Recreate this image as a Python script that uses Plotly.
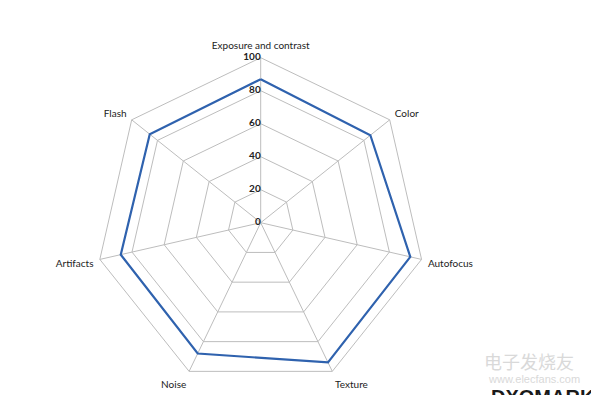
import plotly.graph_objects as go

categories = ["Exposure and contrast", "Color", "Autofocus", "Texture", "Noise", "Artifacts", "Flash"]
scores = [87, 85, 93, 94, 88, 87, 86]
radial_ticks = [0, 20, 40, 60, 80, 100]

W, H = 591, 395
cx, cy, R = 260.7, 222.7, 165
domain = dict(x=[(cx - R) / W, (cx + R) / W], y=[1 - (cy + R) / H, 1 - (cy - R) / H])

fig = go.Figure()
fig.add_trace(go.Scatterpolar(
    r=scores + scores[:1],
    theta=categories + categories[:1],
    mode="lines",
    line=dict(color="#2f62ae", width=2.2),
    showlegend=False,
    hoverinfo="skip",
    subplot="polar",
))
# radial tick labels, placed left of the vertical axis (on an invisible overlay polar)
fig.add_trace(go.Scatterpolar(
    r=radial_ticks,
    theta=[categories[0]] * len(radial_ticks),
    mode="text",
    text=[f"<b>{v}</b>" for v in radial_ticks],
    textposition="middle left",
    textfont=dict(family="Lato, 'Open Sans', sans-serif", size=10, color="#222"),
    showlegend=False,
    hoverinfo="skip",
    cliponaxis=False,
    subplot="polar2",
))

grid = "#bdbdbd"
fig.update_layout(
    width=W, height=H,
    paper_bgcolor="white", plot_bgcolor="white",
    margin=dict(l=0, r=0, t=0, b=0, autoexpand=False),
    font=dict(family="Lato, 'Open Sans', sans-serif", size=10, color="#222"),
    polar=dict(
        bgcolor="white",
        gridshape="linear",
        domain=domain,
        radialaxis=dict(
            range=[0, 100],
            tickvals=radial_ticks,
            showticklabels=False,
            angle=90,
            showline=False,
            ticks="",
            gridcolor=grid,
            gridwidth=1,
        ),
        angularaxis=dict(
            direction="clockwise",
            rotation=90,
            showline=True,
            linecolor=grid,
            linewidth=1,
            gridcolor=grid,
            gridwidth=1,
            ticks="outside",
            ticklen=4,
            tickcolor="rgba(0,0,0,0)",
            tickfont=dict(size=10, color="#222"),
        ),
    ),
    polar2=dict(
        bgcolor="rgba(0,0,0,0)",
        gridshape="circular",
        domain=domain,
        radialaxis=dict(range=[0, 100], visible=False, showgrid=False, showline=False,
                        showticklabels=False, ticks=""),
        angularaxis=dict(direction="clockwise", rotation=90, visible=False, showgrid=False,
                         showline=False, showticklabels=False, ticks=""),
    ),
)

for txt, x, y, size, color, fam, xanchor, yanchor in [
    ("电子发烧友", 482, 361, 18, "#d9d9d9", "Noto Sans CJK SC", "left", "middle"),
    ("www.elecfans.com", 486, 379, 11, "#d9d9d9", "Liberation Sans", "left", "middle"),
    ("<b>DXOMARK</b>", 489, 384, 20, "#1a1a1a", "Liberation Sans", "left", "top"),
]:
    fig.add_annotation(
        x=x / W, y=1 - y / H, xref="paper", yref="paper",
        xanchor=xanchor, yanchor=yanchor,
        text=txt, showarrow=False,
        font=dict(family=fam, size=size, color=color),
    )

fig.write_html(
    "out.html",
    config={"displayModeBar": False},
    post_script="document.body.style.margin='0';document.body.style.overflow='hidden';",
)
